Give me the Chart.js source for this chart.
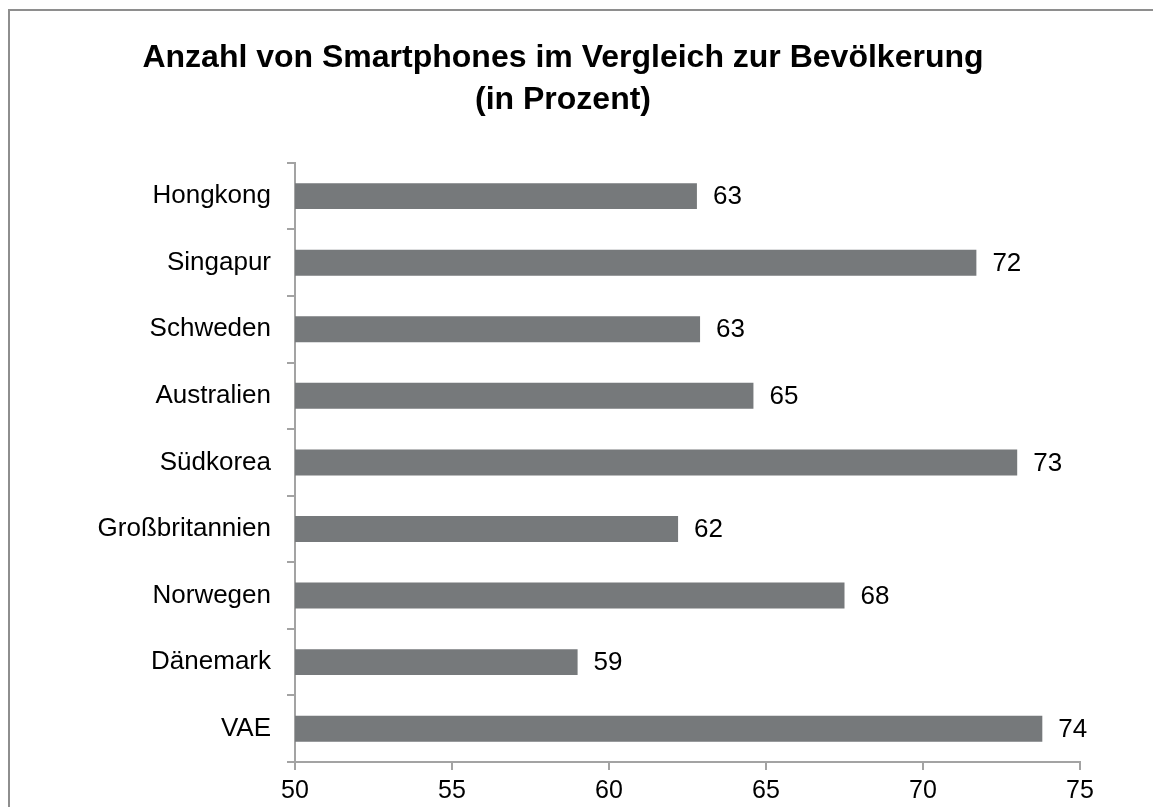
<!DOCTYPE html>
<html>
<head>
<meta charset="utf-8">
<script src="https://cdn.jsdelivr.net/npm/chart.js@4.4.1/dist/chart.umd.min.js"></script>
<style>
    html, body { margin: 0; padding: 0; background: #fff; overflow: hidden; }
    #frame {
        position: absolute; left: 8px; top: 9px;
        width: 1300px; height: 1000px;
        border: 2px solid #8e8e8e;
    }
    #chartBox { position: absolute; left: 0; top: 0; width: 1153px; height: 807px; }
</style>
</head>
<body>
<div id="frame"></div>
<div id="chartBox"><canvas id="myChart" width="1153" height="807"></canvas></div>
<script>
// Données
const countries = ['Hongkong', 'Singapur', 'Schweden', 'Australien', 'Südkorea', 'Großbritannien', 'Norwegen', 'Dänemark', 'VAE'];
const shares = [62.8, 71.7, 62.9, 64.6, 73.0, 62.2, 67.5, 59.0, 73.8];
const shareLabels = ['63', '72', '63', '65', '73', '62', '68', '59', '74'];
const xTicks = [50, 55, 60, 65, 70, 75];

const titleLines = ['Anzahl von Smartphones im Vergleich zur Bevölkerung', '(in Prozent)'];
const fontFamily = '"Liberation Sans", Arial, sans-serif';

// Plugin pour écrire la valeur à droite de chaque barre
const valueLabels = {
    id: 'valueLabels',
    afterDatasetsDraw(chart) {
        const ctx = chart.ctx;
        const meta = chart.getDatasetMeta(0);
        ctx.save();
        ctx.font = '26px ' + fontFamily;
        ctx.fillStyle = '#000';
        ctx.textAlign = 'left';
        ctx.textBaseline = 'middle';
        meta.data.forEach((bar, i) => {
            ctx.fillText(shareLabels[i], bar.x + 16, bar.y + 1);
        });
        ctx.restore();
    }
};

const ctx = document.getElementById('myChart').getContext('2d');
const myChart = new Chart(ctx, {
    type: 'bar',
    data: {
        labels: countries,
        datasets: [{
            data: shares,
            backgroundColor: '#76797b',
            borderWidth: 0,
            barPercentage: 0.39,
            categoryPercentage: 1,
        }],
    },
    options: {
        indexAxis: 'y',
        responsive: false,
        animation: false,
        layout: {
            padding: { left: 46, right: 73, top: 37, bottom: 0 },
        },
        scales: {
            x: {
                min: 50,
                max: 75,
                afterBuildTicks: (scale) => {
                    scale.ticks = xTicks.map(v => ({ value: v }));
                },
                afterFit: (scale) => { scale.height = 45; },
                grid: {
                    drawOnChartArea: false,
                    drawTicks: true,
                    tickLength: 8,
                    color: '#a3a3a3',
                    lineWidth: 2,
                },
                border: { color: '#a3a3a3', width: 2 },
                ticks: {
                    color: '#000',
                    padding: 6,
                    font: { family: fontFamily, size: 25 },
                },
            },
            y: {
                offset: true,
                afterFit: (scale) => { scale.width = 249; },
                grid: {
                    offset: true,
                    drawOnChartArea: false,
                    drawTicks: true,
                    tickLength: 8,
                    color: '#a3a3a3',
                    lineWidth: 2,
                },
                border: { color: '#a3a3a3', width: 2 },
                ticks: {
                    color: '#000',
                    padding: 16,
                    font: { family: fontFamily, size: 26 },
                },
            },
        },
        plugins: {
            legend: { display: false },
            tooltip: { enabled: false },
            title: {
                display: true,
                text: titleLines,
                color: '#000',
                font: { family: fontFamily, size: 32, weight: 'bold', lineHeight: 1.31 },
                padding: { top: 0, bottom: 42 },
            },
        },
    },
    plugins: [valueLabels],
});
</script>
</body>
</html>
